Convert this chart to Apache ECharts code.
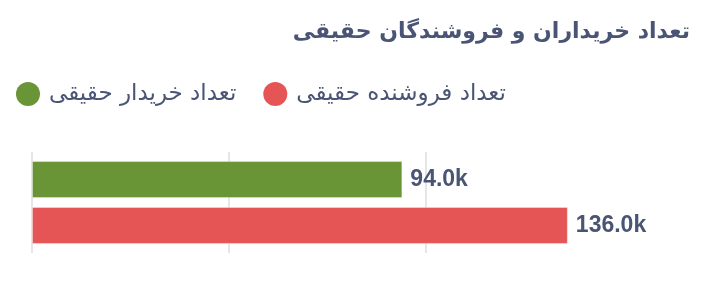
<!DOCTYPE html>
<html><head><meta charset="utf-8">
<script src="https://cdn.jsdelivr.net/npm/echarts@6/dist/echarts.min.js"></script>
<style>html,body{margin:0;padding:0;background:#fff}#c{width:702px;height:297px}</style>
</head><body><div id="c"></div>
<script>
const titleText = 'تعداد خریداران و فروشندگان حقیقی';
const categories = ['حقیقی'];
const seriesNames = ['تعداد خریدار حقیقی', 'تعداد فروشنده حقیقی'];
const buyers = [94000];
const sellers = [136000];
const colors = ['#699536', '#e55555'];

const chart = echarts.init(document.getElementById('c'), null, {renderer: 'canvas'});
const textColor = '#4a5474';
function mkSeries(name, data, color) {
  return {
    name: name, type: 'bar', data: data,
    barWidth: 37, barGap: '24%',
    itemStyle: {color: color, borderColor: 'rgba(255,255,255,0.35)', borderWidth: 1},
    label: {
      show: true, position: 'right', distance: 8,
      color: textColor, fontWeight: 'bold', fontSize: 23,
      fontFamily: 'Liberation Sans, Arial, sans-serif',
      formatter: p => (p.value / 1000).toFixed(1) + 'k'
    }
  };
}
chart.setOption({
  animation: false,
  title: {
    text: titleText, right: 12, top: 21, padding: 0,
    textStyle: {fontFamily: 'DejaVu Sans', fontWeight: 'bold', fontSize: 22, color: textColor}
  },
  legend: {
    data: seriesNames, left: 16, top: 82, padding: 0, icon: 'circle',
    itemWidth: 24, itemHeight: 24, itemGap: 27,
    itemStyle: {borderWidth: 0},
    textStyle: {fontFamily: 'DejaVu Sans', fontSize: 23, color: textColor, padding: [0, 0, 0, 4]}
  },
  grid: {left: 32, top: 152, width: 591, height: 101, containLabel: false},
  xAxis: {
    type: 'value', min: 0, max: 150000, interval: 50000,
    axisLabel: {show: false}, axisLine: {show: false}, axisTick: {show: false},
    splitLine: {show: true, showMaxLine: false, lineStyle: {color: '#e6e6e6', width: 2}}
  },
  yAxis: {
    type: 'category', data: categories, inverse: true,
    axisLabel: {show: false}, axisLine: {show: false}, axisTick: {show: false}
  },
  series: [mkSeries(seriesNames[0], buyers, colors[0]), mkSeries(seriesNames[1], sellers, colors[1])]
});
</script></body></html>
